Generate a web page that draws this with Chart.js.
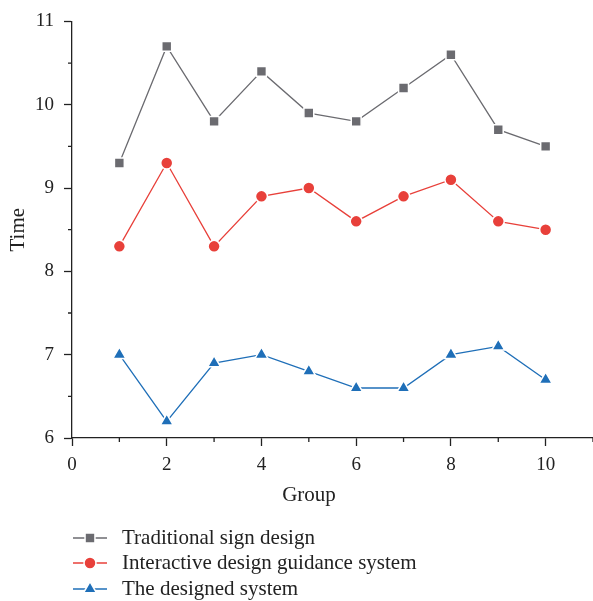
<!DOCTYPE html>
<html>
<head>
<meta charset="utf-8">
<script src="https://cdn.jsdelivr.net/npm/chart.js@4/dist/chart.umd.min.js"></script>
<style>
  html, body { margin: 0; padding: 0; background: #fff; }
  #wrap { width: 593px; height: 601px; }
</style>
</head>
<body>
<div id="wrap"><canvas id="grafico" width="593" height="601"></canvas></div>
<script>
const grupos = [1, 2, 3, 4, 5, 6, 7, 8, 9, 10];
const tradicional = [9.3, 10.7, 9.8, 10.4, 9.9, 9.8, 10.2, 10.6, 9.7, 9.5];
const interativo = [8.3, 9.3, 8.3, 8.9, 9.0, 8.6, 8.9, 9.1, 8.6, 8.5];
const projetado = [7.0, 6.2, 6.9, 7.0, 6.8, 6.6, 6.6, 7.0, 7.1, 6.7];
const ticksX = [0, 2, 4, 6, 8, 10];
const ticksY = [6, 7, 8, 9, 10, 11];
const nomes = ["Traditional sign design", "Interactive design guidance system", "The designed system"];

const fonte = "'Liberation Serif', 'DejaVu Serif', serif";
const corEixo = "#222";

function serie(nome, valores, cor, estilo, raio) {
    return {
        label: nome,
        data: grupos.map((g, i) => ({ x: g, y: valores[i] })),
        borderColor: cor,
        backgroundColor: cor,
        borderWidth: 1.3,
        pointStyle: estilo,
        pointRadius: raio,
        pointHoverRadius: raio,
        pointBackgroundColor: cor,
        pointBorderColor: "#fff",
        pointBorderWidth: 1.5,
        tension: 0,
    };
}

// ticks menores + titulo do eixo x + legenda
const extras = {
    id: "extras",
    afterDraw(chart) {
        const ctx = chart.ctx;
        const sx = chart.scales.x;
        const sy = chart.scales.y;
        ctx.save();
        ctx.strokeStyle = corEixo;
        ctx.lineWidth = 1.3;
        ctx.beginPath();
        for (let v = 1; v <= 11; v += 2) {
            const px = sx.getPixelForValue(v);
            ctx.moveTo(px, sy.bottom);
            ctx.lineTo(px, sy.bottom + 4);
        }
        for (let v = 6.5; v < 11; v += 1) {
            const py = sy.getPixelForValue(v);
            ctx.moveTo(sx.left, py);
            ctx.lineTo(sx.left - 4, py);
        }
        ctx.stroke();

        ctx.fillStyle = corEixo;
        ctx.font = "21px " + fonte;
        ctx.textAlign = "center";
        ctx.textBaseline = "middle";
        ctx.fillText("Group", 309, 495);

        const linhas = [538, 563, 589];
        chart.data.datasets.forEach((ds, i) => {
            const y = linhas[i];
            ctx.strokeStyle = ds.borderColor;
            ctx.lineWidth = 1.3;
            ctx.beginPath();
            ctx.moveTo(73, y);
            ctx.lineTo(107, y);
            ctx.stroke();
            ctx.fillStyle = ds.borderColor;
            ctx.strokeStyle = "#fff";
            ctx.lineWidth = 1.5;
            Chart.helpers.drawPoint(ctx, {
                pointStyle: ds.pointStyle,
                radius: ds.pointRadius,
                borderWidth: 1.5,
                rotation: 0,
            }, 90, y);
            ctx.fillStyle = corEixo;
            ctx.textAlign = "left";
            ctx.fillText(ds.label, 122, y);
        });
        ctx.restore();
    }
};

const ctx = document.getElementById("grafico").getContext("2d");
const grafico = new Chart(ctx, {
    type: "line",
    data: {
        datasets: [
            serie(nomes[0], tradicional, "#6b6b70", "rect", 7),
            serie(nomes[1], interativo, "#e8403a", "circle", 6),
            serie(nomes[2], projetado, "#1f6fb8", "triangle", 7.5),
        ],
    },
    options: {
        responsive: false,
        animation: false,
        layout: { autoPadding: false, padding: { top: 20, right: 0, bottom: 93, left: 0 } },
        plugins: { legend: { display: false }, tooltip: { enabled: false } },
        scales: {
            x: {
                type: "linear",
                min: 0,
                max: 11,
                afterBuildTicks: (s) => { s.ticks = ticksX.map((v) => ({ value: v })); },
                afterFit: (s) => { s.height = 70; },
                grid: { drawOnChartArea: false, tickLength: 8, tickColor: corEixo, tickWidth: 1.3 },
                border: { color: corEixo, width: 1.3 },
                ticks: { color: corEixo, font: { family: fonte, size: 19 }, padding: 8, maxRotation: 0 },
            },
            y: {
                min: 6,
                max: 11,
                afterBuildTicks: (s) => { s.ticks = ticksY.map((v) => ({ value: v })); },
                afterFit: (s) => { s.width = 72; },
                grid: { drawOnChartArea: false, tickLength: 8, tickColor: corEixo, tickWidth: 1.3 },
                border: { color: corEixo, width: 1.3 },
                ticks: { color: corEixo, font: { family: fonte, size: 19 }, padding: 10 },
                title: { display: true, text: "Time", color: corEixo, font: { family: fonte, size: 21 }, padding: { top: 6, bottom: 0 } },
            },
        },
    },
    plugins: [extras],
});
</script>
</body>
</html>
